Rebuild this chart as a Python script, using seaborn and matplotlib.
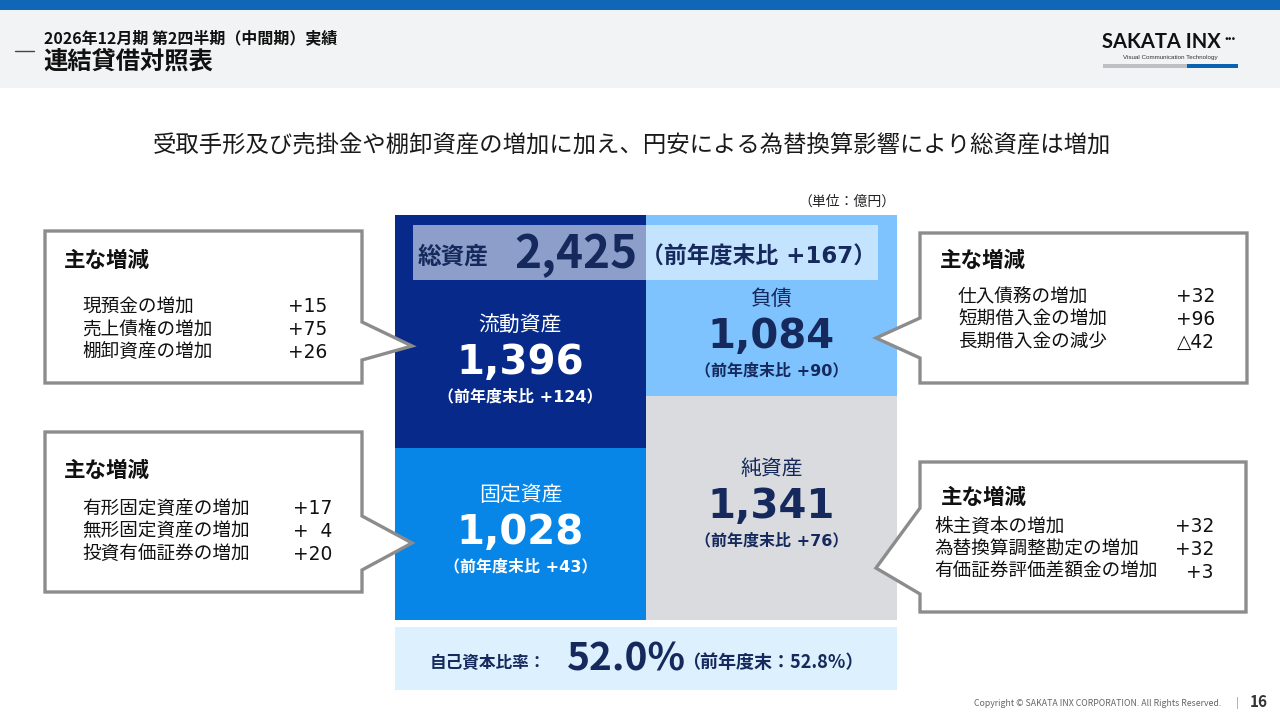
import matplotlib.pyplot as plt
import matplotlib.patches as mpatches
import pandas as pd
import seaborn as sns

# 連結貸借対照表（単位：億円）
block_names = ["流動資産", "固定資産", "負債", "純資産"]
block_sides = ["資産", "資産", "負債・純資産", "負債・純資産"]
block_values = [1396, 1028, 1084, 1341]
block_changes = [124, 43, 90, 76]

total_assets = 2425
total_change = 167
equity_ratio = 52.0
equity_ratio_prev = 52.8

# 主な増減
ca_items = ["現預金の増加", "売上債権の増加", "棚卸資産の増加"]
ca_changes = [15, 75, 26]
fa_items = ["有形固定資産の増加", "無形固定資産の増加", "投資有価証券の増加"]
fa_changes = [17, 4, 20]
li_items = ["仕入債務の増加", "短期借入金の増加", "長期借入金の減少"]
li_changes = [32, 96, -42]
na_items = ["株主資本の増加", "為替換算調整勘定の増加", "有価証券評価差額金の増加"]
na_changes = [32, 32, 3]

headline = "受取手形及び売掛金や棚卸資産の増加に加え、円安による為替換算影響により総資産は増加"

sns.set_theme(style="white")
plt.rcParams["font.family"] = ["Noto Sans CJK JP", "DejaVu Sans"]
WIDE = ["DejaVu Sans", "Noto Sans CJK JP"]   # Meiryo-like wide digits

W, H = 1280, 720
NAVY_TXT = "#15295C"
fig = plt.figure(figsize=(12.8, 7.2), dpi=100)
fig.patch.set_facecolor("white")

# blocks axes (pixel box of the balance sheet)
bs_left, bs_top, bs_w, bs_h = 395, 215, 502, 405
ax = fig.add_axes([bs_left / W, 1 - (bs_top + bs_h) / H, bs_w / W, bs_h / H])
ov = fig.add_axes([0, 0, 1, 1])
ov.set_xlim(0, W)
ov.set_ylim(H, 0)
ov.axis("off")
ov.patch.set_alpha(0)
ax.set_zorder(1)
ov.set_zorder(2)

df = pd.DataFrame({"name": block_names, "side": block_sides,
                   "value": block_values, "change": block_changes})
df["end"] = df.groupby("side")["value"].cumsum()
df["start"] = df["end"] - df["value"]
colors = dict(zip(block_names, ["#06298A", "#0786E8", "#7EC3FE", "#D9DBDE"]))
sides = list(dict.fromkeys(block_sides))

for _, row in df.sort_values("end", ascending=False).iterrows():
    sns.barplot(x=[row["side"]], y=[row["end"]], order=sides,
                color=colors[row["name"]], width=1.0, saturation=1,
                linewidth=0, errorbar=None, ax=ax)
ax.set_xlim(-0.5, 1.5)
ax.set_ylim(df["end"].max(), 0)
ax.axis("off")

band_px = 65
band_units = df["end"].max() * band_px / bs_h
for _, row in df.iterrows():
    xi = sides.index(row["side"])
    yc = (max(row["start"], band_units) + row["end"]) / 2
    fg = "white" if row["side"] == "資産" else NAVY_TXT
    ax.annotate(row["name"], (xi, yc), xytext=(0, 39), textcoords="offset pixels",
                ha="center", va="center", fontsize=15, color=fg)
    ax.annotate(f"{row['value']:,}", (xi, yc), xytext=(0, 1), textcoords="offset pixels",
                ha="center", va="center", fontsize=29, fontweight="bold", color=fg, family=WIDE)
    ax.annotate(f"（前年度末比 +{row['change']}）", (xi, yc), xytext=(0, -33),
                textcoords="offset pixels", ha="center", va="center",
                fontsize=11.5, fontweight="bold", color=fg, family=WIDE)

# total assets band
ov.add_patch(mpatches.Rectangle((413, 225), 465, 55, fc="white", alpha=0.55, lw=0))
ov.text(418, 257, "総資産", fontsize=17, fontweight="bold", color=NAVY_TXT, va="center")
ov.text(514, 255, f"{total_assets:,}", fontsize=33, fontweight="bold", color=NAVY_TXT,
        va="center")
ov.text(641, 257, f"（前年度末比 +{total_change}）", fontsize=16.5, fontweight="bold",
        color=NAVY_TXT, va="center", family=WIDE)
ov.text(896, 202, "（単位：億円）", fontsize=10, color="#222222", ha="right", va="center")

# equity ratio box
ov.add_patch(mpatches.Rectangle((395, 627), 502, 63, fc="#DDF0FD", lw=0))
ov.text(430, 663, "自己資本比率：", fontsize=12, fontweight="bold", color=NAVY_TXT, va="center")
ov.text(567, 659, f"{equity_ratio:.1f}%", fontsize=28, fontweight="bold", color=NAVY_TXT, va="center")
ov.text(682, 663, f"（前年度末：{equity_ratio_prev:.1f}%）", fontsize=13, fontweight="bold",
        color=NAVY_TXT, va="center")


def fmt(v, pad=False):
    sign = "+" if v >= 0 else "△"
    num = f"{abs(v)}"
    if pad and len(num) < 2:
        num = "\u2007" + num
    return sign + num


def callout(box, side, tip, base, title_xy, items, changes, item_x, item_y, val_x, pad=False):
    x0, y0, x1, y1 = box
    if side == "right":
        pts = [(x0, y0), (x1, y0), (x1, base[0]), tip, (x1, base[1]), (x1, y1), (x0, y1)]
    else:
        pts = [(x0, y0), (x1, y0), (x1, y1), (x0, y1), (x0, base[1]), tip, (x0, base[0])]
    ov.add_patch(mpatches.Polygon(pts, closed=True, fc="white", ec="#8C8C8C",
                                  lw=2.4, joinstyle="miter"))
    ov.text(*title_xy, "主な増減", fontsize=15.5, fontweight="bold", color="#111111", va="center")
    for k, (it, ch) in enumerate(zip(items, changes)):
        yy = item_y + k * 22.5
        ov.text(item_x, yy, it, fontsize=13.4, color="#111111", va="center")
        ov.text(val_x, yy, fmt(ch, pad), fontsize=13.4, color="#111111", va="center",
                ha="right", family=WIDE)


callout((45, 231, 362, 383), "right", (412, 346), (322, 360), (64, 260),
        ca_items, ca_changes, 82, 307, 327)
callout((45, 432, 362, 592), "right", (412, 543), (516, 570), (64, 470),
        fa_items, fa_changes, 82, 509, 332, pad=True)
callout((920, 233, 1247, 383), "left", (876, 338), (318, 358), (940, 260),
        li_items, li_changes, 958, 297, 1215)
callout((920, 462, 1246, 612), "left", (876, 568), (508, 594), (941, 497),
        na_items, na_changes, 934, 527, 1214)

ov.text(632, 146, headline, fontsize=16.8, color="#1A1A1A", ha="center", va="center")

# header
ov.add_patch(mpatches.Rectangle((0, 0), W, 10, fc="#0F67B6", lw=0))
ov.add_patch(mpatches.Rectangle((0, 10), W, 78, fc="#F2F3F4", lw=0))
ov.plot([15, 34], [51, 51], color="#444444", lw=1)
ov.text(44, 38, "2026年12月期 第2四半期（中間期）実績", fontsize=11.5, fontweight="bold",
        color="#111111", va="center")
ov.text(43, 62, "連結貸借対照表", fontsize=17.5, fontweight="bold", color="#111111", va="center")

ov.text(1102, 42, "SAKATA INX", family=["Lato", "DejaVu Sans"], fontsize=14.5,
        fontweight="bold", color="#111111", va="center")
ov.text(1224, 39, "···", family=["Lato", "DejaVu Sans"], fontsize=10,
        fontweight="bold", color="#111111", va="center")
ov.text(1170, 57, "Visual Communication Technology", family=["Liberation Sans", "DejaVu Sans"],
        fontsize=4.5, color="#333333", ha="center", va="center")
ov.add_patch(mpatches.Rectangle((1103, 63.5), 84, 4.5, fc="#BDBFC2", lw=0))
ov.add_patch(mpatches.Rectangle((1187, 63.5), 51, 4.5, fc="#0A62B2", lw=0))

# footer
ov.text(1221, 704, "Copyright © SAKATA INX CORPORATION. All Rights Reserved.", fontsize=6.3,
        color="#666666", ha="right", va="center")
ov.text(1237, 703, "|", fontsize=7, color="#888888", ha="center", va="center")
ov.text(1268, 702, "16", fontsize=11, fontweight="bold", color="#333333", ha="right", va="center")

fig.savefig("out.png", dpi=100)
